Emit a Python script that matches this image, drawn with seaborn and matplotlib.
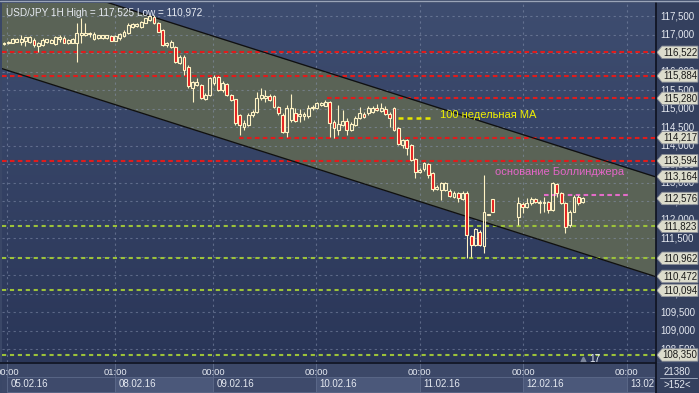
import numpy as np
import pandas as pd
import matplotlib
matplotlib.use("Agg")
import matplotlib.pyplot as plt
from matplotlib.patches import Polygon, Rectangle
import seaborn as sns

sns.set_style("dark")
plt.rcParams['font.family'] = ['Liberation Sans', 'DejaVu Sans']

# ---------------- data ----------------
bar_idx = list(range(0, 115)) + list(range(120, 136))

opens = [116.75, 116.77, 116.78, 116.81, 116.79, 116.84, 116.81, 116.85, 116.69, 116.72,
         116.80, 116.78, 116.75, 116.87, 116.90, 116.77, 116.78, 116.78, 116.99, 117.00,
         117.01, 116.87, 116.90, 116.90, 116.90, 116.96, 116.84, 116.90, 116.96, 117.04,
         117.20, 117.23, 117.21, 117.32, 117.39, 117.48, 117.31, 117.12, 116.72, 116.67,
         116.67, 116.23, 116.40, 116.13, 115.55, 115.64, 115.64, 115.25, 115.37, 115.69,
         115.86, 115.50, 115.67, 115.37, 115.25, 114.83, 114.51, 114.56, 114.83, 114.92,
         115.28, 115.28, 115.34, 115.34, 115.05, 114.83, 114.38, 114.69, 114.88, 114.81,
         114.81, 114.81, 115.01, 115.01, 115.10, 115.08, 115.19, 114.65, 114.42, 114.56,
         114.67, 114.42, 114.56, 114.74, 114.85, 114.88, 114.90, 115.03, 114.94, 114.99,
         114.85, 115.03, 114.47, 114.02, 114.15, 114.02, 113.64, 113.30, 113.36, 113.51,
         113.26, 112.82, 112.80, 112.80, 112.79, 112.62, 112.73, 112.55, 112.72, 111.56,
         111.32, 111.67, 111.29, 112.12, 112.55,
         112.08, 112.43, 112.34, 112.45, 112.55, 112.45, 112.45, 112.49, 112.26, 112.97,
         112.72, 112.45, 111.86, 112.22, 112.62, 112.49]
highs = [116.80, 116.83, 116.90, 116.91, 116.99, 116.94, 116.96, 116.90, 116.81, 116.90,
         116.89, 116.88, 116.96, 116.99, 116.96, 116.87, 116.90, 117.31, 117.44, 117.32,
         117.08, 117.08, 117.00, 117.00, 117.00, 116.98, 116.98, 117.04, 117.12, 117.31,
         117.31, 117.31, 117.37, 117.46, 117.525, 117.52, 117.34, 117.14, 116.79, 116.85,
         116.69, 116.45, 116.44, 116.18, 115.76, 115.83, 115.67, 115.42, 115.86, 115.90,
         115.88, 115.75, 115.69, 115.40, 115.27, 114.86, 114.69, 114.88, 114.96, 115.45,
         115.56, 115.50, 115.40, 115.37, 115.07, 114.88, 115.10, 115.39, 115.01, 114.99,
         114.92, 115.10, 115.10, 115.18, 115.18, 115.23, 115.22, 114.69, 115.10, 114.96,
         114.75, 114.64, 114.80, 115.05, 114.91, 115.07, 115.07, 115.13, 115.15, 115.07,
         114.90, 115.05, 114.51, 114.18, 114.18, 114.05, 113.67, 113.39, 113.56, 113.53,
         113.29, 112.94, 113.03, 113.02, 112.83, 112.78, 112.76, 112.78, 112.78, 111.59,
         111.78, 111.72, 113.21, 112.16, 112.56,
         112.62, 112.49, 112.58, 112.62, 112.58, 112.53, 112.62, 112.52, 113.03, 112.99,
         112.74, 112.47, 112.26, 112.67, 112.67, 112.62]
lows = [116.72, 116.75, 116.77, 116.79, 116.72, 116.69, 116.77, 116.67, 116.54, 116.69,
        116.77, 116.76, 116.72, 116.81, 116.77, 116.75, 116.77, 116.27, 116.77, 116.96,
        116.94, 116.85, 116.88, 116.88, 116.88, 116.82, 116.82, 116.85, 116.94, 117.02,
        117.18, 117.21, 117.19, 117.30, 117.37, 117.29, 117.06, 116.69, 116.67, 116.64,
        116.23, 116.21, 115.91, 115.56, 115.19, 115.61, 115.26, 115.23, 115.34, 115.64,
        115.48, 115.46, 115.34, 115.21, 114.56, 114.29, 114.42, 114.53, 114.78, 114.88,
        115.23, 115.18, 115.21, 115.02, 114.83, 114.34, 114.24, 114.65, 114.65, 114.65,
        114.69, 114.75, 114.96, 114.99, 115.07, 115.06, 114.24, 114.21, 114.29, 114.53,
        114.29, 114.40, 114.53, 114.72, 114.75, 114.83, 114.88, 114.94, 114.91, 114.83,
        114.51, 114.40, 114.01, 113.94, 113.75, 113.59, 113.13, 113.26, 113.33, 113.13,
        112.79, 112.80, 112.53, 112.78, 112.62, 112.60, 112.49, 112.53, 110.972, 111.00,
        111.29, 111.28, 111.10, 112.12, 112.20,
        111.86, 112.18, 112.31, 112.40, 112.45, 112.18, 112.22, 112.18, 112.25, 112.62,
        112.43, 111.64, 111.81, 112.20, 112.40, 112.45]
closes = [116.78, 116.81, 116.87, 116.88, 116.88, 116.93, 116.93, 116.72, 116.77, 116.85,
          116.87, 116.85, 116.93, 116.94, 116.78, 116.85, 116.87, 117.04, 117.04, 117.04,
          117.04, 117.02, 116.99, 116.99, 116.99, 116.84, 116.96, 117.02, 117.08, 117.26,
          117.29, 117.29, 117.35, 117.44, 117.50, 117.31, 117.08, 116.72, 116.77, 116.81,
          116.26, 116.40, 116.04, 115.61, 115.73, 115.73, 115.28, 115.37, 115.82, 115.86,
          115.50, 115.69, 115.37, 115.23, 114.61, 114.56, 114.61, 114.83, 114.92, 115.28,
          115.37, 115.34, 115.23, 115.05, 114.88, 114.38, 115.01, 115.01, 114.67, 114.85,
          114.85, 115.01, 115.05, 115.15, 115.15, 115.19, 114.61, 114.49, 114.58, 114.67,
          114.42, 114.58, 114.76, 114.88, 114.78, 115.01, 115.03, 114.96, 115.03, 114.85,
          114.74, 114.42, 114.04, 114.15, 113.93, 113.61, 113.30, 113.34, 113.53, 113.21,
          112.82, 112.89, 112.99, 112.99, 112.64, 112.73, 112.58, 112.73, 111.59, 111.32,
          111.74, 111.32, 112.21, 112.15, 112.22,
          112.45, 112.34, 112.46, 112.55, 112.49, 112.49, 112.49, 112.26, 112.99, 112.72,
          112.45, 111.81, 112.22, 112.62, 112.45, 112.58]

# regression channel (price at bar 0 and slope per bar)
channel_lower_0 = 116.064
channel_upper_0 = 118.756
channel_slope = -0.03681

# horizontal levels: (price, first bar where drawn or None for full width)
red_levels = [116.522, 115.884, 115.280, 114.217, 113.594]
red_starts = [None, None, 75.4, 54.8, None]
green_levels = [111.823, 110.962, 110.094, 108.350]
ma100_level = 114.74
ma100_span = (92.0, 100.2)
boll_level = 112.67
boll_span = (126.0, 145.8)

tag_values = [116.522, 115.884, 115.280, 114.217, 113.594, 113.164, 112.576,
              111.823, 110.962, 110.472, 110.094, 108.350]
ytick_values = [117.5, 117.0, 116.5, 116.0, 115.5, 115.0, 114.5, 114.0, 113.5,
                113.0, 112.5, 112.0, 111.5, 111.0, 110.5, 110.0, 109.5, 109.0, 108.5]

day_marks = [0.7, 25.9, 48.8, 72.8, 97.0, 121.1, 145.3]
time_labels = ["00:00", "01:00", "00:00", "00:00", "00:00", "00:00", "00:00"]
date_labels = ["05.02.16", "08.02.16", "09.02.16", "10.02.16", "11.02.16", "12.02.16", "13.02.16"]

header = "USD/JPY 1H High = 117,525 Low = 110,972"

df = pd.DataFrame({"bar": bar_idx, "open": opens, "high": highs, "low": lows, "close": closes})
assert len(set(len(v) for v in [bar_idx, opens, highs, lows, closes])) == 1

# ---------------- figure ----------------
W, H = 699, 393
fig = plt.figure(figsize=(W / 100, H / 100), dpi=100, facecolor="#3a4767")

def frac(x0, y0, x1, y1):
    return [x0 / W, 1 - y1 / H, (x1 - x0) / W, (y1 - y0) / H]

ax = fig.add_axes(frac(2, 3, 655, 362))
XMIN, XMAX = -0.467, 151.9
YMIN, YMAX = 108.161, 117.853
ax.set_xlim(XMIN, XMAX)
ax.set_ylim(YMIN, YMAX)

# background gradient
grad = np.linspace(0, 1, 256).reshape(-1, 1)
top = np.array([62, 77, 112]) / 255
bot = np.array([42, 54, 88]) / 255
img = top[None, None, :] * (1 - grad[:, :, None]) + bot[None, None, :] * grad[:, :, None]
ax.imshow(img, extent=[XMIN, XMAX, YMIN, YMAX], aspect="auto", origin="upper", zorder=0)

# channel
cx = np.array([XMIN - 5, XMAX + 5])
lower = channel_lower_0 + channel_slope * cx
upper = channel_upper_0 + channel_slope * cx
ax.fill_between(cx, lower, upper, color="#5a6356", zorder=1, linewidth=0)
chan = pd.DataFrame({"x": np.r_[cx, cx], "y": np.r_[lower, upper], "side": ["lo", "lo", "up", "up"]})
sns.lineplot(data=chan, x="x", y="y", units="side", estimator=None, color="#101010",
             linewidth=0.95, ax=ax, zorder=6, legend=False)
ax.set_xlim(XMIN, XMAX)
ax.set_ylim(YMIN, YMAX)

# grid
for yv in ytick_values:
    ax.axhline(yv, color="#8c98b4", alpha=0.5, lw=0.8, ls=(0, (2, 3)), zorder=2)
for xv in day_marks:
    ax.axvline(xv, color="#8c98b4", alpha=0.5, lw=0.8, ls=(0, (2, 3)), zorder=2)

# levels
for lv, st in zip(red_levels, red_starts):
    x0 = XMIN if st is None else st
    ax.plot([x0, XMAX], [lv, lv], color="#e01c1c", lw=1.5, dashes=(2.2, 1.6), zorder=3,
            solid_capstyle="butt", dash_capstyle="butt")
for lv in green_levels:
    ax.plot([XMIN, XMAX], [lv, lv], color="#9cc23a", lw=1.5, dashes=(2.0, 1.8), zorder=3,
            dash_capstyle="butt")
ax.plot(list(ma100_span), [ma100_level] * 2, color="#e6e600", lw=1.8, dashes=(2.0, 1.6), zorder=3)
ax.plot(list(boll_span), [boll_level] * 2, color="#e46cc8", lw=1.5, dashes=(2.2, 1.6), zorder=3)

ax.text(101.8, 114.83, "100 недельная МА", color="#f0f000", fontsize=8.0,
        va="center", ha="left", zorder=7)
ax.text(114.6, 113.28, "основание Боллинджера", color="#e466c8", fontsize=8.0,
        va="center", ha="left", zorder=7)

# candles
cream = "#fff3c4"
bw = 0.66
up = df["close"] >= df["open"]
body_lo = np.minimum(df["open"], df["close"])
body_hi = np.maximum(df["open"], df["close"])
ax.vlines(df["bar"], df["low"], body_lo, color=cream, lw=0.8, zorder=8)
ax.vlines(df["bar"], body_hi, df["high"], color=cream, lw=0.8, zorder=8)
heights = np.maximum(body_hi - body_lo, 0.004)
ax.bar(df["bar"][up], heights[up], bottom=body_lo[up], width=bw,
       facecolor="none", edgecolor=cream, linewidth=0.8, zorder=9)
ax.bar(df["bar"][~up], heights[~up], bottom=body_lo[~up], width=bw,
       facecolor="#e41c1c", edgecolor=cream, linewidth=0.8, zorder=9)

ax.text(0.006, 0.985, header, transform=ax.transAxes, color="#e8ecf4", fontsize=7.2,
        va="top", ha="left", zorder=10)
ax.text(136.5, 108.25, "17", color="#e8ecf4", fontsize=7.2, va="center", ha="left", zorder=10)
ax.plot([135.2], [108.25], marker="^", ms=3.5, color="#7d879c", zorder=10)

ax.set_xticks([])
ax.set_yticks([])
ax.set_xlabel("")
ax.set_ylabel("")
for s in ax.spines.values():
    s.set_visible(False)
ax.grid(False)

# frame lines
fig.add_artist(plt.Line2D([655.5 / W] * 2, [1 - 3 / H, 1 - 393 / H], color="#0e1220", lw=1.2))
fig.add_artist(plt.Line2D([0, 655.5 / W], [1 - 362.5 / H] * 2, color="#0e1220", lw=1.2))
fig.add_artist(plt.Line2D([0, 1], [1 - 1 / H] * 2, color="#9aa4b8", lw=1.0))

# right price axis
axr = fig.add_axes(frac(656, 3, 699, 362), sharey=ax)
axr.set_facecolor("#34405e")
axr.set_xlim(0, 1)
for yv in ytick_values:
    axr.text(0.09, yv, f"{yv:.3f}".replace(".", ","), color="#e4e8f0", fontsize=7.0,
             va="center", ha="left")
dy = 6.2 / 37.04
for tv in tag_values:
    poly = Polygon([[0.02, tv], [0.14, tv + dy], [0.975, tv + dy], [0.975, tv - dy], [0.14, tv - dy]],
                   closed=True, facecolor="#dcdccc", edgecolor="#8a8e98", lw=0.6, zorder=5)
    axr.add_patch(poly)
    axr.text(0.56, tv, f"{tv:.3f}".replace(".", ","), color="#1a1a1a", fontsize=7.0,
             va="center", ha="center", zorder=6)
axr.set_xticks([])
axr.tick_params(left=False, labelleft=False)
for s in axr.spines.values():
    s.set_visible(False)
axr.grid(False)

# bottom time axis
axb = fig.add_axes(frac(2, 363, 655, 393), sharex=ax)
axb.set_facecolor("#3c4868")
axb.set_ylim(0, 30)
for i, xv in enumerate(day_marks):
    nxt = day_marks[i + 1] if i + 1 < len(day_marks) else XMAX + 10
    fc = "#4b587a" if i % 2 == 1 else "#3e4a6b"
    axb.add_patch(Rectangle((xv, 1.5), nxt - xv, 14.5, facecolor=fc, edgecolor="#5d6a8a",
                            lw=0.6, zorder=1))
    axb.plot([xv, xv], [16, 30], color="#5d6a8a", lw=0.7, zorder=1)
    axb.text(xv, 20.5, time_labels[i], color="#e4e8f0", fontsize=6.8, ha="center", va="center", zorder=3)
    axb.text(xv + 0.8, 9, date_labels[i], color="#e4e8f0", fontsize=7.0, ha="left", va="center",
             zorder=3, clip_on=True)
axb.set_yticks([])
axb.tick_params(bottom=False, labelbottom=False)
for s in axb.spines.values():
    s.set_visible(False)
axb.grid(False)

# bottom-right box
axc = fig.add_axes(frac(656, 363, 699, 393))
axc.set_facecolor("#34405e")
axc.set_xlim(0, 1)
axc.set_ylim(0, 1)
axc.text(0.5, 0.7, "21380", color="#e4e8f0", fontsize=7.0, ha="center", va="center")
axc.text(0.5, 0.25, ">152<", color="#e4e8f0", fontsize=7.0, ha="center", va="center")
axc.plot([0.1, 0.95], [0.5, 0.5], color="#9aa4b8", lw=0.7)
axc.set_xticks([])
axc.set_yticks([])
for s in axc.spines.values():
    s.set_visible(False)

fig.savefig("out.png", dpi=100, facecolor=fig.get_facecolor())
